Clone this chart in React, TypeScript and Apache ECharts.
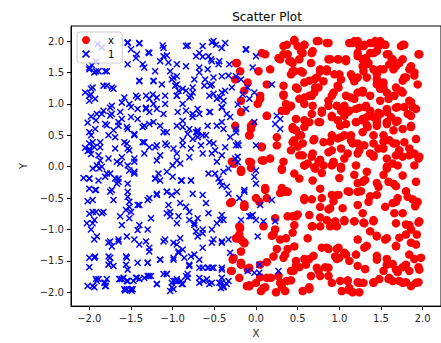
import React, { useEffect, useRef } from "react";
import * as echarts from "echarts";

const TITLE = "Scatter Plot";
const X_LABEL = "X";
const Y_LABEL = "Y";
const RED_NAME = "x";
const BLUE_NAME = "1";
const TICKS = [-2.0, -1.5, -1.0, -0.5, 0.0, 0.5, 1.0, 1.5, 2.0];

// red dots (label "x") — first pass
const redPoints: number[][] = [
  [0.07,1.81],[0.11,1.79],[-0.24,1.65],[0.03,1.52],[0.17,1.55],[0.13,1.31],[0.05,1.13],[0.13,0.81],[0.07,0.31],[-0.06,0.60],
  [-0.08,0.50],[0.37,1.94],[0.33,1.79],[0.27,1.73],[0.40,1.68],[0.46,2.02],[0.50,1.92],[0.56,1.81],[0.58,1.94],[0.68,1.84],
  [0.73,2.00],[0.85,1.97],[0.44,1.65],[0.66,1.65],[0.87,1.71],[0.99,1.71],[1.08,1.71],[0.44,1.52],[0.56,1.50],[0.77,1.52],
  [0.85,1.55],[0.70,1.39],[0.58,1.34],[0.48,1.26],[0.33,1.15],[0.52,1.08],[0.64,1.13],[0.70,1.18],[0.75,1.26],[0.81,1.36],
  [0.94,1.47],[1.02,1.39],[1.14,1.47],[1.18,1.36],[1.12,1.97],[1.18,2.00],[1.24,1.92],[1.30,1.94],[1.37,1.97],[1.43,2.00],
  [1.47,1.92],[1.55,1.94],[1.41,1.81],[1.22,1.76],[1.32,1.73],[1.35,1.65],[1.28,1.60],[1.59,1.79],[1.63,1.71],[1.76,1.94],
  [1.96,1.79],[1.86,1.60],[1.72,1.65],[1.65,1.55],[1.53,1.55],[1.45,1.47],[1.33,1.42],[1.78,1.42],[1.90,1.50],[1.94,1.31],
  [1.68,1.26],[1.53,1.26],[1.45,1.31],[1.28,1.18],[1.18,1.08],[1.08,1.13],[0.99,1.26],[0.91,1.13],[0.87,0.97],[0.97,0.97],
  [0.79,0.86],[0.68,0.97],[0.58,1.00],[0.42,0.97],[0.36,0.89],[0.48,0.76],[0.64,0.71],[0.44,0.60],[0.52,0.50],[0.58,0.63],
  [0.77,0.71],[0.91,0.79],[1.06,0.81],[1.01,0.65],[1.12,0.89],[1.24,0.94],[1.32,0.97],[1.37,1.13],[1.49,1.05],[1.59,1.08],
  [1.66,1.13],[1.76,1.18],[1.84,1.05],[1.68,0.94],[1.57,0.92],[1.47,0.86],[1.41,0.79],[1.28,0.76],[1.20,0.71],[1.34,0.63],
  [1.45,0.65],[1.57,0.71],[1.70,0.73],[1.82,0.84],[1.92,0.92],[1.86,0.65],[1.76,0.60],[1.65,0.58],[1.53,0.50],[1.41,0.50],
  [1.28,0.55],[1.14,0.50],[1.02,0.47],[0.91,0.50],[0.81,0.39],[0.70,0.44],[0.44,0.39],[0.42,0.26],[0.52,0.18],[0.68,0.21],
  [0.87,0.23],[1.02,0.29],[1.16,0.37],[1.30,0.34],[1.41,0.37],[1.53,0.29],[1.65,0.37],[1.78,0.39],[1.92,0.44],[1.96,0.16],
  [1.84,0.18],[1.68,0.18],[1.57,0.13],[1.41,0.18],[1.22,0.21],[1.06,0.13],[0.93,0.08],[0.75,0.08],[0.58,0.02],[0.33,0.08],
  [0.17,0.13],[0.09,0.10],
  [-0.18,-0.08],[-0.06,0.07],[0.07,0.10],[0.31,-0.03],[0.46,-0.11],[0.52,-0.19],[0.58,0.02],[0.70,-0.01],[0.68,-0.22],[0.77,-0.35],
  [0.33,-0.40],[0.38,-0.40],[0.11,-0.37],[0.13,-0.50],[0.04,-0.56],[0.81,0.02],[0.91,0.02],[1.02,-0.03],[1.20,0.02],[1.33,-0.08],
  [1.57,-0.03],[1.70,0.02],[1.90,0.02],[1.76,-0.14],[1.92,-0.24],[1.65,-0.27],[1.47,-0.32],[1.28,-0.24],[1.22,-0.40],[1.12,-0.40],
  [0.99,-0.45],[0.91,-0.45],[0.58,-0.53],[0.89,-0.66],[0.77,-0.64],[1.04,-0.66],[1.22,-0.61],[1.35,-0.56],[1.55,-0.64],[1.68,-0.56],
  [1.82,-0.48],[1.94,-0.56],[0.23,-0.82],[0.38,-0.79],[0.48,-0.79],[0.64,-0.77],[0.46,-0.93],[0.68,-0.95],[0.77,-0.95],[0.85,-0.85],
  [0.97,-0.95],[1.06,-0.85],[1.18,-0.87],[1.30,-0.90],[1.41,-0.85],[1.37,-1.03],[1.45,-1.11],[1.57,-1.14],[1.68,-0.90],[1.84,-0.93],
  [1.96,-0.87],[1.80,-1.08],[1.92,-1.24],[1.68,-1.27],[1.84,-1.40],[0.21,-1.08],[0.09,-0.95],[0.36,-1.14],[0.46,-1.27],[0.35,-1.40],
  [0.21,-1.43],[0.62,-1.14],[0.85,-1.29],[0.99,-1.29],[0.95,-1.43],[1.08,-1.40],[1.20,-1.40],[1.30,-1.29],[1.45,-1.48],[1.57,-1.56],
  [1.68,-1.64],[1.80,-1.56],[1.96,-1.64],[1.98,-1.45],[-0.16,-1.19],[-0.18,-1.56],[0.05,-1.56],[0.13,-1.77],[0.00,-1.85],[0.29,-1.85],
  [0.42,-1.66],[0.48,-1.58],[0.60,-1.56],[0.73,-1.61],[0.87,-1.61],[0.64,-1.95],[0.77,-1.74],[0.91,-1.85],[1.10,-1.82],[1.12,-1.93],
  [1.24,-1.85],[1.41,-1.85],[1.59,-1.79],[1.76,-1.85],[1.92,-1.85],[-0.20,-1.77],[-0.18,-1.35],
  [-0.23,1.65],[-0.19,1.52],[-0.25,1.39],[-0.10,1.34],[-0.14,1.21],[-0.18,1.05],[-0.18,0.87],[-0.25,0.65],[-0.06,0.65],[-0.08,0.50],
  [-0.29,0.08],[-0.08,0.08],[-0.26,0.05],[-0.06,-0.02],[-0.29,-0.56],[-0.14,-0.64],[-0.19,-0.98],[-0.23,-1.14],[-0.14,-1.22],[-0.27,-1.45],
  [-0.29,-1.66],[-0.08,-1.61],[-0.08,-1.90],
  [-0.11,-1.90],[0.06,-1.98],[0.09,-1.93],[0.18,-1.77],[0.24,-2.00],[0.30,-1.85],[0.35,-1.98],[0.37,-1.82],[0.45,-1.66],[0.56,-1.98],
  [0.66,-1.74],[0.87,-1.74],[1.01,-1.82],[1.03,-1.98],[1.16,-2.00],[1.29,-1.85],[1.48,-1.79],[1.60,-1.77],[1.64,-1.82],[1.72,-1.82],
  [1.86,-1.90],[1.84,-1.66]
];

// red dots — second pass
const redExtra: number[][] = [
  [0.33,1.92],[0.46,2.00],[0.58,1.94],[0.54,1.84],[0.38,1.79],[0.29,1.71],[0.42,1.68],[0.52,1.71],[0.67,1.81],[0.75,2.00],
  [0.87,1.97],[0.89,1.71],[0.77,1.55],[0.85,1.52],[0.64,1.37],[0.73,1.42],[0.71,1.26],[0.67,1.13],[0.58,1.10],[0.50,1.24],
  [0.46,1.52],[0.54,1.52],[0.42,1.47],[0.33,1.29],[0.33,1.13],[0.36,1.00],[0.40,0.95],[0.31,0.89],[0.13,0.81],[0.05,1.08],
  [0.02,1.00],[0.98,1.71],[1.08,1.68],[1.00,1.47],[0.98,1.29],[0.93,1.18],[0.87,1.05],[1.02,0.89],[0.91,0.81],[0.79,0.89],
  [0.67,0.84],[1.16,1.97],[1.22,2.00],[1.29,1.92],[1.41,1.97],[1.49,2.00],[1.55,1.94],[1.22,1.81],[1.28,1.71],[1.33,1.63],
  [1.29,1.52],[1.22,1.42],[1.16,1.42],[1.37,1.81],[1.45,1.84],[1.57,1.79],[1.64,1.71],[1.60,1.63],[1.68,1.60],[1.76,1.71],
  [1.74,1.92],[1.78,1.94],[1.95,1.79],[1.84,1.55],[1.80,1.42],[1.90,1.45],[1.76,1.37],[1.49,1.55],[1.41,1.55],[1.45,1.39],
  [1.53,1.34],[1.49,1.24],[1.57,1.18],[1.66,1.13],[1.74,1.21],[1.78,0.95],[1.86,1.03],[1.70,0.95],[1.57,0.87],[1.49,0.84],
  [1.37,0.89],[1.31,0.95],[1.20,0.92],[1.10,0.87],[1.06,0.97],[1.22,1.18],[1.28,1.21],[1.14,1.10],[1.33,0.79],[1.45,0.76],
  [1.62,0.79],[1.86,0.81],[1.88,0.95],
  [0.58,0.74],[0.75,0.71],[0.98,0.74],[1.08,0.68],[1.20,0.71],[1.28,0.74],[1.33,0.66],[1.45,0.71],[1.57,0.68],[1.68,0.71],
  [1.86,0.63],[0.48,0.58],[0.54,0.50],[0.46,0.42],[0.50,0.32],[0.56,0.18],[0.62,0.05],[0.69,0.42],[0.67,0.16],[0.77,0.11],
  [0.71,-0.03],[0.79,-0.10],[0.89,0.40],[0.91,0.26],[0.93,0.05],[0.98,0.45],[1.06,0.50],[1.14,0.42],[1.22,0.37],[1.24,0.26],
  [1.10,0.21],[1.02,0.00],[1.00,-0.18],[1.18,-0.13],[1.22,-0.26],[1.31,-0.21],[1.45,-0.26],[1.37,0.21],[1.41,0.16],[1.47,0.29],
  [1.53,0.40],[1.60,0.42],[1.68,0.37],[1.72,0.26],[1.76,0.16],[1.84,0.29],[1.90,0.21],[1.95,0.13],[1.64,0.05],[1.57,0.00],
  [1.53,-0.13],[1.59,-0.24],[1.68,-0.31],[1.80,-0.39],[1.88,-0.52],[1.91,-0.63],[1.70,-0.50],[1.64,-0.58],[1.45,-0.45],[1.37,-0.47],
  [1.26,-0.39],[1.10,-0.39],[0.98,-0.45],[0.93,-0.55],[0.79,-0.50],[0.67,-0.52],[0.58,-0.50],[0.36,-0.39],[0.29,-0.42],[0.31,-0.34],
  [0.44,0.63],[0.56,0.37],[0.25,0.34],[0.31,-0.05],[0.11,-0.34],[0.07,0.32],[0.09,0.10],[-0.18,-0.05],[-0.14,-0.60],[0.00,-0.50],
  [-0.04,0.68],[0.25,0.47],
  [0.44,-0.79],[0.50,-0.76],[0.67,-0.95],[0.77,-0.81],[0.87,-0.68],[0.89,-0.95],[0.95,-0.87],[1.06,-0.87],[1.18,-0.87],[1.28,-0.74],
  [1.29,-0.89],[1.41,-0.87],[1.45,-1.10],[1.55,-1.16],[1.66,-0.74],[1.76,-0.74],[1.80,-0.92],[1.86,-1.00],[1.95,-0.89],[1.93,-1.08],
  [1.86,-1.21],[1.72,-1.13],[1.68,-1.26],[1.64,-1.55],[1.76,-1.60],[1.70,-1.68],[1.80,-1.84],[1.95,-1.60],[1.95,-1.84],[1.90,-1.47],
  [0.23,-1.00],[0.29,-1.16],[0.44,-1.05],[0.38,-1.31],[0.25,-1.31],[0.33,-1.45],[0.48,-1.50],[0.52,-1.60],[0.58,-1.47],[0.64,-1.47],
  [0.69,-1.42],[0.75,-1.66],[0.64,-1.92],[0.83,-1.60],[0.97,-1.47],[1.00,-1.45],[1.12,-1.50],[1.22,-1.58],[1.31,-1.63],[1.10,-1.81],
  [1.22,-1.84],[1.12,-1.97],[1.24,-2.00],[1.41,-1.84],[1.53,-1.66],[1.57,-1.47],[0.79,-1.29],[0.87,-1.31],[0.97,-1.31],[1.06,-1.37],
  [1.22,-1.16],[1.33,-1.26],[1.45,-1.42],[0.13,-1.52],[-0.10,-1.63],[-0.18,-1.55],[0.05,-1.76],[0.11,-1.92],[-0.08,-1.89],[0.42,-1.81],
  [0.31,-1.92],[0.19,-1.10],[0.27,-1.74],[-0.18,-1.16],[-0.20,-1.08],
  [-0.27,0.05],[-0.18,-0.08],[-0.31,-0.58],[-0.14,-0.64],[-0.20,-0.95],[-0.24,-1.14],[-0.14,-1.21],[-0.28,-1.48],[-0.18,-1.53],[-0.30,-1.66],
  [-0.08,-1.90]
];

// blue crosses (label "1") — first pass
const bluePoints: number[][] = [
  [-1.54,1.98],[-1.40,1.96],[-1.50,1.87],[-1.43,1.79],[-1.29,1.82],[-1.12,1.93],[-1.07,1.77],[-1.15,1.68],[-1.36,1.63],[-0.82,1.93],
  [-0.68,1.81],[-0.53,1.98],[-0.48,1.94],[-0.41,1.89],[-0.64,1.75],[-0.54,1.71],[-0.44,1.68],[-0.32,1.63],[-0.12,1.86],[-0.95,1.63],
  [-0.84,1.60],[-1.03,1.52],[-0.95,1.44],[-1.21,1.52],[-0.68,1.50],[-0.58,1.55],[-0.74,1.39],[-0.51,1.42],[-0.41,1.44],[-1.89,1.52],
  [-1.79,1.52],[-2.00,1.58],[-1.94,1.50],[-1.40,1.36],[-1.23,1.36],[-1.13,1.31],[-1.01,1.39],[-0.97,1.29],[-0.93,1.21],[-0.84,1.21],
  [-0.76,1.26],[-0.62,1.29],[-0.53,1.31],[-0.41,1.18],[-0.47,1.08],[-0.29,1.26],[-1.83,1.29],[-1.73,1.26],[-1.96,1.26],[-1.98,1.15],
  [-1.93,1.08],[-1.58,1.10],[-1.44,1.13],[-1.32,1.13],[-1.24,1.15],[-1.19,1.10],[-0.95,1.13],[-0.78,1.13],[-0.56,1.13],[-0.39,1.05],
  [-1.61,1.02],[-1.75,0.94],[-1.83,0.89],[-1.91,0.84],[-1.73,0.84],[-1.52,1.00],[-1.42,0.92],[-1.32,0.94],[-1.28,0.87],[-1.23,1.00],
  [-1.09,1.00],[-0.88,1.00],[-0.84,0.89],[-0.76,0.84],[-0.70,0.92],[-0.56,0.87],[-0.41,0.94],[-0.35,0.84],[-1.50,0.79],[-1.42,0.76],
  [-1.61,0.76],[-1.65,0.65],[-1.81,0.68],[-1.93,0.60],[-1.98,0.50],[-2.00,0.37],[-1.94,0.31],[-1.87,0.39],[-1.77,0.50],[-1.71,0.58],
  [-1.54,0.60],[-1.46,0.50],[-1.34,0.65],[-1.23,0.71],[-1.15,0.65],[-1.07,0.55],[-0.95,0.65],[-0.88,0.73],[-0.80,0.60],[-0.70,0.58],
  [-0.64,0.50],[-0.58,0.65],[-0.47,0.65],[-0.39,0.60],[-0.31,0.47],[-0.21,0.34],[-1.58,0.39],[-1.54,0.29],[-1.69,0.29],[-1.89,0.18],
  [-1.77,0.13],[-1.61,0.15],[-1.36,0.39],[-1.28,0.31],[-1.19,0.34],[-1.09,0.37],[-1.34,0.21],[-1.15,0.18],[-0.99,0.29],[-0.88,0.34],
  [-0.76,0.44],[-0.72,0.55],[-0.66,0.34],[-0.56,0.39],[-0.49,0.26],[-0.41,0.18],[-0.25,0.13],[-0.80,0.15],[-0.95,0.10],[-1.46,0.08],
  [-1.91,0.02],[-1.54,0.02],
  [-2.00,1.55],[-2.05,1.18],[-2.00,1.05],[-1.98,0.80],[-2.02,0.70],[-2.00,0.55],[-2.05,0.30],[-2.02,0.25],[-1.98,0.20],[-2.00,0.28],
  [-2.07,-0.18],[-2.00,-0.35],[-2.02,-0.55],[-2.00,-0.75],[-2.03,-0.90],[-1.98,-1.00],[-2.00,-1.45],[-2.00,-1.60],[-2.02,-1.90],
  [-1.90,1.95],[-1.85,1.90],[-1.97,1.62],[-1.92,1.68],
  [-1.96,-0.03],[-1.85,0.00],[-1.79,-0.11],[-1.89,-0.22],[-2.00,-0.19],[-1.69,-0.19],[-1.63,0.05],[-1.52,-0.06],[-1.46,-0.08],[-1.65,-0.24],
  [-1.75,-0.40],[-1.93,-0.37],[-1.96,-0.53],[-1.71,-0.53],[-1.54,-0.40],[-1.52,-0.56],[-1.56,-0.69],[-1.83,-0.72],[-1.96,-0.72],[-1.94,-0.85],
  [-1.63,-0.79],[-1.52,-0.82],[-1.40,-0.61],[-1.30,-0.53],[-1.26,-0.82],[-1.21,-0.19],[-1.17,-0.11],[-1.19,-0.43],[-1.07,-0.40],[-0.95,-0.40],
  [-1.00,0.02],[-0.89,-0.22],[-0.78,-0.22],[-0.76,-0.43],[-0.64,-0.45],[-0.60,-0.58],[-1.05,-0.61],[-1.03,-0.72],[-0.93,-0.79],[-0.80,-0.72],
  [-0.74,-0.93],[-0.72,-1.03],[-0.64,-1.06],[-0.53,-1.00],[-0.43,-0.85],[-0.41,-0.77],[-0.49,-0.11],[-0.39,-0.08],[-0.33,-0.03],[-0.43,-0.24],
  [-0.35,-0.32],[-0.33,-0.43],[-0.14,-0.40],[-0.06,-0.79],[-1.91,-1.11],[-1.75,-1.19],[-1.65,-1.16],[-1.42,-1.01],[-1.32,-1.19],[-1.28,-1.29],
  [-1.09,-1.16],[-0.95,-1.24],[-0.91,-1.14],[-0.93,-1.37],[-0.99,-1.45],[-0.78,-1.43],[-0.64,-1.29],[-0.51,-1.16],[-0.41,-1.19],[-1.93,-1.43],
  [-1.75,-1.45],[-1.77,-1.56],[-1.56,-1.43],[-1.56,-1.56],[-1.71,-1.58],[-1.42,-1.53],[-1.30,-1.53],[-1.15,-1.48],[-0.80,-1.56],[-0.68,-1.61],
  [-0.58,-1.61],[-0.53,-1.61],[-0.41,-1.61],[-1.96,-1.90],[-1.89,-1.79],[-1.81,-1.85],[-1.63,-1.79],[-1.54,-1.82],[-1.58,-1.95],[-1.50,-1.95],
  [-1.44,-1.77],[-1.30,-1.74],[-1.19,-1.87],[-1.07,-1.71],[-1.01,-1.85],[-0.95,-1.82],[-0.88,-1.87],[-0.99,-1.95],[-0.84,-1.74],[-0.68,-1.85],
  [-0.56,-1.87],[-0.41,-1.77],[-0.35,-1.87],[-0.39,-1.90],
  [-1.91,-1.82],[-1.82,-1.85],[-1.80,-1.90],[-1.64,-1.79],[-1.59,-1.77],[-1.55,-1.82],[-1.57,-1.97],[-1.49,-1.98],[-1.47,-1.82],[-1.43,-1.77],
  [-1.34,-1.77],[-1.26,-1.74],[-1.11,-1.71],[-1.03,-1.98],[-0.97,-1.82],[-0.89,-1.87],[-0.82,-1.77],[-0.63,-1.82],[-0.44,-1.85],[-0.42,-1.93],
  [-0.12,1.87],[0.00,1.76],[-0.04,1.58],[-0.18,1.39],[-0.24,1.44],[0.19,1.31],[-0.10,1.26],[-0.02,1.18],[-0.16,1.15],[-0.08,1.08],
  [-0.22,0.99],[-0.12,0.92],[0.25,0.81],[0.29,0.76],[0.23,0.68],[0.29,0.60],[-0.02,0.71],[-0.24,0.55],[0.00,0.34],[-0.24,0.34],
  [-0.22,0.07],[0.00,-0.06],[-0.02,-0.16],[0.00,-0.27],[-0.14,-0.37],[-0.20,-0.50],[0.19,-0.53],[0.05,-0.61],[-0.04,-0.77],[-0.08,-0.79],
  [0.00,-0.85],[-0.18,-0.85],[0.09,-0.87],[0.23,-0.87],[0.02,-1.11],[-0.10,-1.66],[0.04,-1.56],[0.04,-1.69],[0.27,-1.66],[-0.02,-1.69]
];

// blue crosses — second pass
const blueExtra: number[][] = [
  [-1.54,1.97],[-1.40,1.97],[-1.28,1.81],[-1.44,1.73],[-1.54,1.63],[-1.34,1.58],[-1.11,1.89],[-1.11,1.76],[-1.05,1.66],[-0.84,1.92],
  [-0.64,1.92],[-0.51,2.00],[-0.37,1.97],[-0.72,1.76],[-0.57,1.76],[-0.68,1.58],[-0.53,1.68],[-0.45,1.63],[-0.33,1.45],[-0.12,1.87],
  [-0.99,1.42],[-0.95,1.31],[-0.88,1.24],[-0.76,1.18],[-0.55,1.29],[-0.51,1.16],[-0.43,1.10],[-0.37,1.21],[-0.41,0.95],[-0.61,1.39],
  [-1.23,1.37],[-1.40,1.37],[-1.81,1.52],[-1.92,1.52],[-1.79,1.29],[-1.71,1.24],[-1.98,1.24],[-2.00,1.13],[-1.42,1.10],[-1.28,1.08],
  [-1.09,1.13],[-0.95,1.13],[-0.80,1.10],[-1.73,0.97],[-1.85,0.84],[-1.75,0.81],[-1.63,0.87],[-1.50,0.95],[-1.32,0.92],[-1.19,0.92],
  [-1.11,0.84],[-0.94,0.87],[-0.76,0.79],[-0.68,0.84],[-0.55,0.87],[-0.41,0.71],[-0.31,0.79],[-0.24,0.60],[-0.22,0.37],[-1.92,0.74],
  [-1.79,0.66],[-1.65,0.71],[-1.55,0.63],[-1.46,0.52],[-1.36,0.63],[-1.28,0.68],[-1.11,0.55],[-0.88,0.63],[-0.82,0.52],[-0.70,0.55],
  [-0.60,0.50],[-0.51,0.37],[-1.96,0.39],[-2.00,0.26],[-1.87,0.31],[-1.69,0.47],[-1.55,0.37],[-1.52,0.26],[-1.34,0.39],[-1.21,0.31],
  [-1.07,0.34],[-0.95,0.21],[-0.88,0.42],[-0.78,0.29],[-0.70,0.47],[-0.64,0.21],[-0.53,0.21],[-0.37,0.31],[-1.87,0.10],[-1.67,0.08],
  [-1.46,0.13],[-1.19,0.10],[-0.91,0.05],[-0.47,0.08],[-0.22,0.16],
  [-2.00,-0.19],[-1.88,-0.03],[-1.81,-0.16],[-1.75,-0.11],[-1.65,-0.19],[-1.67,-0.27],[-1.73,-0.37],[-1.92,-0.37],[-1.54,-0.27],[-1.46,-0.11],
  [-1.54,-0.48],[-1.52,-0.64],[-1.50,-0.72],[-1.42,-0.61],[-1.28,-0.50],[-1.19,-0.45],[-1.21,-0.19],[-1.15,-0.22],[-1.07,-0.08],[-1.00,-0.16],
  [-0.90,-0.22],[-0.78,-0.22],[-0.57,-0.11],[-0.45,-0.19],[-0.41,-0.30],[-1.07,-0.40],[-1.01,-0.45],[-0.91,-0.58],[-0.84,-0.64],[-1.07,-0.74],
  [-1.03,-0.79],[-0.95,-0.90],[-0.80,-0.85],[-0.74,-0.90],[-0.70,-0.82],[-0.57,-0.74],[-0.47,-0.90],[-0.39,-0.85],[-0.64,-1.00],[-0.70,-1.11],
  [-0.53,-1.21],[-0.41,-1.21],[-1.92,-0.72],[-1.85,-0.74],[-1.96,-0.90],[-1.61,-0.93],[-1.40,-0.93],[-1.30,-1.00],[-1.94,-1.16],[-1.77,-1.21],
  [-1.73,-1.27],[-1.65,-1.19],[-1.55,-1.11],[-1.46,-1.16],[-1.40,-1.24],[-1.28,-1.35],[-1.11,-1.19],[-0.99,-1.21],[-0.93,-1.35],[-0.99,-1.48],
  [-0.88,-1.32],[-0.86,-1.45],[-0.74,-1.40],[-0.68,-1.48],[-1.94,-1.45],[-1.77,-1.43],[-1.75,-1.53],[-1.55,-1.45],[-1.54,-1.64],[-1.30,-1.53],
  [-1.15,-1.48],[-0.80,-1.58],[-0.64,-1.61],[-0.57,-1.61],[-0.51,-1.61],[-0.41,-1.64],[-1.94,-1.92],[-1.92,-1.79],[-1.79,-1.79],[-1.81,-1.90],
  [-1.61,-1.79],[-1.54,-1.82],[-1.55,-1.95],[-1.48,-1.95],[-1.40,-1.79],[-1.28,-1.74],[-1.19,-1.87],[-1.07,-1.71],[-0.99,-1.82],[-1.01,-1.92],
  [-0.95,-1.79],[-0.90,-1.82],[-0.82,-1.71],[-0.68,-1.77],[-0.59,-1.79],[-0.53,-1.85],[-0.41,-1.85],[-0.39,-1.92],[-0.33,-1.82],[-0.31,-1.37],
  [-0.33,-1.16]
];

const CROSS = "path://M1.5,0L5,3.5L8.5,0L10,1.5L6.5,5L10,8.5L8.5,10L5,6.5L1.5,10L0,8.5L3.5,5L0,1.5Z";
const FONT = "DejaVu Sans";

const fmt = (v: number) => (v < 0 ? "\u2212" : "") + Math.abs(v).toFixed(1);

export default function App() {
  const ref = useRef<HTMLDivElement>(null);
  useEffect(() => {
    if (!ref.current) return;
    const chart = echarts.init(ref.current, null, { renderer: "svg" });
    const axisCommon = {
      type: "value" as const,
      splitLine: { show: false },
      axisLine: { show: true, onZero: false, lineStyle: { color: "#000", width: 1 } },
      axisTick: { show: true, length: 4, inside: false, customValues: TICKS, lineStyle: { color: "#000", width: 1 } },
      axisLabel: { customValues: TICKS, formatter: fmt, margin: 7, fontSize: 10, color: "#262626", fontFamily: FONT },
      nameLocation: "middle" as const,
      nameTextStyle: { fontSize: 10, color: "#262626", fontFamily: FONT },
    };
    chart.setOption({
      animation: false,
      title: {
        text: TITLE,
        left: 262,
        top: 6,
        textAlign: "center",
        textStyle: { fontFamily: FONT, fontSize: 12, fontWeight: "normal", color: "#000" },
      },
      grid: { left: 71, top: 26, right: -12, bottom: 34, show: true, borderColor: "#000", borderWidth: 1 },
      xAxis: { ...axisCommon, min: -2.22, max: 2.22, name: X_LABEL, nameGap: 21 },
      yAxis: { ...axisCommon, min: -2.22, max: 2.24, name: Y_LABEL, nameGap: 40 },
      legend: {
        orient: "vertical",
        left: 77,
        top: 32,
        padding: [3, 8, 4, 5],
        itemGap: 4,
        itemWidth: 20,
        itemHeight: 8,
        backgroundColor: "rgba(255,255,255,0.8)",
        borderColor: "#cccccc",
        borderWidth: 1,
        borderRadius: 3,
        textStyle: { fontFamily: FONT, fontSize: 10, color: "#000", padding: [0, 0, 0, 7] },
        data: [
          { name: RED_NAME, icon: "circle" },
          { name: BLUE_NAME, icon: CROSS },
        ],
      },
      series: [
        {
          type: "scatter",
          name: RED_NAME,
          data: redPoints.concat(redExtra),
          symbol: "circle",
          symbolSize: 8.5,
          itemStyle: { color: "#ff0000", opacity: 1 },
        },
        {
          type: "scatter",
          name: BLUE_NAME,
          data: bluePoints.concat(blueExtra),
          symbol: CROSS,
          symbolSize: 7,
          itemStyle: { color: "#0000ff", opacity: 1 },
        },
      ],
    });
    return () => chart.dispose();
  }, []);
  return <div ref={ref} style={{ width: 441, height: 343, position: "absolute", left: 0, top: 0 }} />;
}
